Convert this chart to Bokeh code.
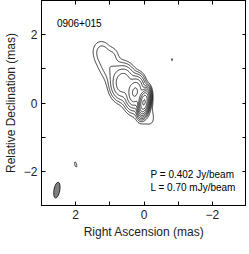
import numpy as np
from bokeh.plotting import figure
from bokeh.models import Range1d, FixedTicker, LinearAxis
from bokeh.core.properties import value
from bokeh.embed import file_html
from bokeh.resources import INLINE

# ---- data: Gaussian model components of the VLBI map (RA mas, Dec mas, peak mJy/beam, FWHM maj/min mas, PA deg)
comp_ra = [0.00, 0.26, 0.62, 0.50, 1.05, 1.22, 0.90, 2.00, -0.82]
comp_dec = [0.02, 0.32, 0.60, 0.42, 1.10, 1.52, 1.42, -1.80, 1.27]
comp_peak = [402.0, 50.0, 18.0, 2.6, 1.2, 1.1, 0.7, 0.85, 0.80]
comp_maj = [0.38, 0.50, 0.55, 1.80, 0.80, 0.45, 0.35, 0.28, 0.14]
comp_min = [0.16, 0.28, 0.38, 0.55, 0.40, 0.35, 0.25, 0.10, 0.05]
comp_pa = [-10.0, -10.0, -10.0, 35.0, 30.0, 0.0, 0.0, 15.0, 0.0]

peak_flux = 0.402      # Jy/beam
lowest_level = 0.70    # mJy/beam
n_levels = 10
levels = [lowest_level * 2 ** k for k in range(n_levels)]

beam_ra = [2.55]
beam_dec = [-2.55]
beam_maj = [0.47]
beam_min = [0.17]
beam_pa = [-10.0]

source_name = ["0906+015"]
name_ra = [2.55]
name_dec = [2.35]

info_text = ["P = %.3f Jy/beam" % peak_flux, "L = %.2f mJy/beam" % lowest_level]
info_ra = [-0.19, -0.19]
info_dec = [-2.08, -2.48]

tick_major = [-2, 0, 2]
tick_minor = [-3, -1, 1, 3]
tick_all = [-3, -2, -1, 0, 1, 2, 3]

# ---- model image
ra = np.linspace(-3, 3, 481)
dec = np.linspace(-3, 3, 481)
RA, DEC = np.meshgrid(ra, dec)
Z = np.zeros_like(RA)
f = 2 * np.sqrt(2 * np.log(2))
for x0, y0, pk, mj, mn, pa in zip(comp_ra, comp_dec, comp_peak, comp_maj, comp_min, comp_pa):
    t = np.deg2rad(pa)
    dx = RA - x0
    dy = DEC - y0
    u = dx * np.sin(t) + dy * np.cos(t)   # along major axis
    v = dx * np.cos(t) - dy * np.sin(t)   # along minor axis
    sm = mj / f
    sn = mn / f
    Z += pk * np.exp(-0.5 * (u ** 2 / sm ** 2 + v ** 2 / sn ** 2))

FONT = "Liberation Sans"

p = figure(frame_width=205, frame_height=205, min_border_left=28, min_border_right=0,
           min_border_top=0, min_border_bottom=30,
           x_range=Range1d(3, -3), y_range=Range1d(-3, 3),
           output_backend="svg", toolbar_location=None)
p.background_fill_color = "white"
p.border_fill_color = "white"
p.outline_line_color = "black"
p.outline_line_width = 1
p.xgrid.visible = False
p.ygrid.visible = False

p.contour(ra, dec, Z, levels, line_color="black", line_width=0.8, fill_color=None)

p.ellipse(x=beam_ra, y=beam_dec, width=beam_min, height=beam_maj,
          angle=np.deg2rad(beam_pa), fill_color="#808080", line_color="black", line_width=0.8)

p.text(x=name_ra, y=name_dec, text=source_name, text_font=value(FONT), text_font_size="10px",
       text_align="left", text_baseline="middle", text_color="black")
p.text(x=info_ra, y=info_dec, text=info_text, text_font=value(FONT), text_font_size="10px",
       text_align="left", text_baseline="middle", text_color="black")

def style(ax):
    ax.ticker = FixedTicker(ticks=tick_major, minor_ticks=tick_minor)
    ax.major_tick_in = 4
    ax.major_tick_out = 0
    ax.minor_tick_in = 4
    ax.minor_tick_out = 0
    ax.major_tick_line_color = "black"
    ax.minor_tick_line_color = "black"
    ax.axis_line_color = "black"
    ax.major_label_text_font = FONT
    ax.major_label_text_font_size = "12px"
    ax.major_label_text_color = "#222222"
    ax.axis_label_text_font = FONT
    ax.axis_label_text_font_size = "12px"
    ax.axis_label_text_font_style = "normal"
    ax.axis_label_text_color = "#222222"
    ax.major_label_standoff = 4
    ax.axis_label_standoff = 3

def style_plain(ax):
    # tick marks only (all as minor ticks, so no labels are produced)
    ax.ticker = FixedTicker(ticks=[], minor_ticks=tick_all)
    ax.minor_tick_in = 4
    ax.minor_tick_out = 0
    ax.major_tick_in = 0
    ax.major_tick_out = 0
    ax.minor_tick_line_color = "black"
    ax.axis_line_color = "black"
    ax.major_label_standoff = 0

style(p.xaxis[0])
style(p.yaxis[0])
p.xaxis[0].axis_label = "Right Ascension (mas)"
p.yaxis[0].axis_label = "Relative Declination (mas)"

top = LinearAxis()
right = LinearAxis()
style_plain(top)
style_plain(right)
p.add_layout(top, "above")
p.add_layout(right, "right")

open("out.html", "w").write(file_html(p, INLINE))
